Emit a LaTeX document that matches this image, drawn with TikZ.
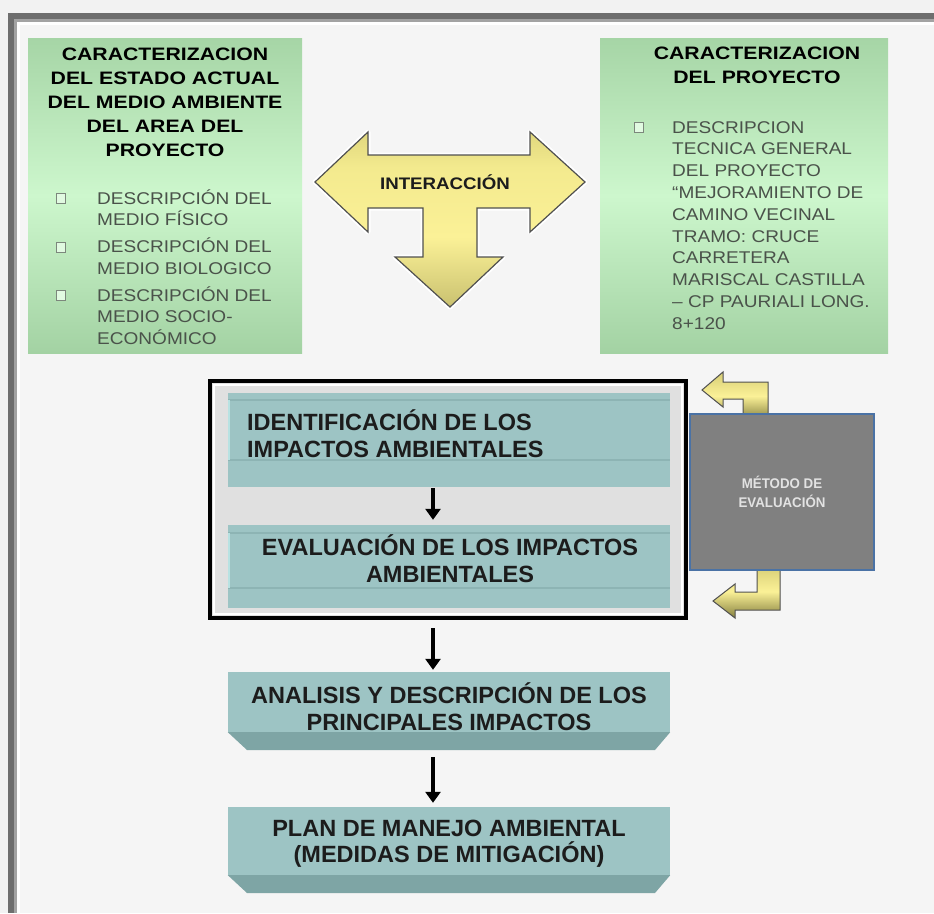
\documentclass[tikz,border=0pt]{standalone}
\usepackage{fontspec}
\setmainfont{Liberation Sans}
\newfontfamily\ttlfont[FakeStretch=1.18]{Liberation Sans}
\newfontfamily\itemfont[FakeStretch=1.12]{Liberation Sans}
\newfontfamily\narrowfont[FakeStretch=0.95]{Liberation Sans}
\usetikzlibrary{arrows.meta}
\definecolor{outerbg}{HTML}{F2F2F2}
\definecolor{framedark}{HTML}{6E6E6E}
\definecolor{framelight}{HTML}{A3A3A3}
\definecolor{innerbg}{HTML}{F5F5F5}
\definecolor{grnT}{HTML}{A6D5A6}
\definecolor{grnM}{HTML}{CDF7CD}
\definecolor{grnB}{HTML}{A3D2A3}
\definecolor{itemgray}{HTML}{4A524A}
\definecolor{bulletgray}{HTML}{7C877C}
\definecolor{tealF}{HTML}{9DC4C4}
\definecolor{tealL}{HTML}{8DB4B4}
\definecolor{tealE}{HTML}{B8E2E2}
\definecolor{tealB}{HTML}{7EA5A5}
\definecolor{tealtext}{HTML}{1C1C1C}
\definecolor{boxgray}{HTML}{E0E0E0}
\definecolor{metgray}{HTML}{808080}
\definecolor{metblue}{HTML}{4A72A5}
\definecolor{mettext}{HTML}{E2E2E2}
\definecolor{yD}{HTML}{85803F}
\definecolor{yM}{HTML}{BDB566}
\definecolor{yL}{HTML}{FBF197}
\definecolor{yL2}{HTML}{F3EA8E}
\definecolor{yM2}{HTML}{D6CD75}
\definecolor{yD2}{HTML}{A9A255}
\definecolor{tline}{HTML}{505050}
\pgfdeclareverticalshading{tsh}{100bp}{color(0bp)=(yD); color(20bp)=(yM); color(45bp)=(yL); color(65bp)=(yL2); color(80bp)=(yM2); color(100bp)=(yD2)}
\tikzset{
  ttl/.style={font=\ttlfont\bfseries\fontsize{18}{22}\selectfont, text=black, inner sep=0pt, anchor=base},
  itm/.style={font=\itemfont\fontsize{17}{21}\selectfont, text=itemgray, inner sep=0pt, anchor=base west},
  bulletbox/.style={draw=bulletgray, line width=0.9pt, fill=grnM!60!white, minimum width=9pt, minimum height=10pt, inner sep=0pt},
  greenbox/.style={inner sep=0pt, top color=grnT, bottom color=grnB, middle color=grnM},
  tealbox/.style={fill=tealF, inner sep=0pt},
  tealtxt/.style={font=\bfseries\fontsize{23.5}{26}\selectfont, text=tealtext, inner sep=0pt},
  bevel/.style={fill=tealB},
  flowarrow/.style={draw=black, line width=3.3pt, -{Triangle[width=15pt,length=11pt]}},
  yarrow/.style={shade, top color=yM2, bottom color=yD, middle color=yL, draw=tline, line width=1pt, line join=miter},
  halo/.style={draw=white, line width=5pt, line join=round}
}
\begin{document}
\begin{tikzpicture}[x=1pt,y=-1pt]
\useasboundingbox (0,0) rectangle (934,913);
% background frame
\fill[outerbg] (0,0) rectangle (934,913);
\fill[framedark] (8,13) rectangle (934,913);
\fill[framelight] (14,19) rectangle (934,913);
\fill[white] (17,22) rectangle (934,913);
\fill[innerbg] (20,25) rectangle (934,913);

% green boxes
\node[greenbox, minimum width=274pt, minimum height=315pt] (gl) at (165,195.5) {};
\node[greenbox, minimum width=288pt, minimum height=315pt] (gr) at (744,195.5) {};

% left title
\foreach \t [count=\i] in {CARACTERIZACION, DEL ESTADO ACTUAL, DEL MEDIO AMBIENTE, DEL AREA DEL, PROYECTO}
  \node[ttl] (lt\i) at (165,{36+24*\i}) {\t};
% left items
\foreach \t/\y [count=\i] in {DESCRIPCIÓN DEL/204, MEDIO FÍSICO/225.5, DESCRIPCIÓN DEL/252.5, MEDIO BIOLOGICO/274, DESCRIPCIÓN DEL/301, MEDIO SOCIO-/322.5, ECONÓMICO/344}
  \node[itm] (li\i) at (97,\y) {\t};
\node[bulletbox] (lb1) at (60.5,198) {};
\node[bulletbox] (lb2) at (60.5,247) {};
\node[bulletbox] (lb3) at (60.5,295) {};

% right title
\node[ttl] (rt1) at (757,59) {CARACTERIZACION};
\node[ttl] (rt2) at (757,83.5) {DEL PROYECTO};
\foreach \t [count=\i] in {DESCRIPCION, TECNICA GENERAL, DEL PROYECTO, “MEJORAMIENTO DE, CAMINO VECINAL, TRAMO: CRUCE, CARRETERA, MARISCAL CASTILLA, – CP PAURIALI LONG., 8+120}
  \node[itm] (ri\i) at (672,{111.2+21.8*\i}) {\t};
\node[bulletbox] (rb1) at (638.5,127) {};

% T arrow
\path[halo] (315,182) -- (368,132) -- (368,155) -- (530,155) -- (530,132) -- (585,182) -- (530,232) -- (530,208) -- (477,208) -- (477,257) -- (503,257) -- (450,307) -- (395,257) -- (423,257) -- (423,208) -- (368,208) -- (368,232) -- cycle;
\path[shade, shading=tsh, draw=tline, line width=1.2pt, line join=miter] (315,182) -- (368,132) -- (368,155) -- (530,155) -- (530,132) -- (585,182) -- (530,232) -- (530,208) -- (477,208) -- (477,257) -- (503,257) -- (450,307) -- (395,257) -- (423,257) -- (423,208) -- (368,208) -- (368,232) -- cycle;
\node[font=\itemfont\bfseries\fontsize{16.7}{18}\selectfont, text=tealtext, inner sep=0pt] (inter) at (445,182) {INTERACCIÓN};

% black framed box
\node[draw=black, line width=4pt, fill=boxgray, minimum width=476pt, minimum height=237pt, inner sep=0pt] (bb) at (448,499.5) {};
\draw[white, line width=2pt] (214,385) rectangle (682,614);

% teal boxes inside
\node[tealbox, minimum width=442pt, minimum height=94pt] (b1) at (449,440) {};
\draw[tealL, line width=1.5pt] (228,400) -- (670,400) (228,460) -- (670,460);
\draw[tealE, line width=2pt] (229,400) -- (229,460);
\node[tealtxt, anchor=base west] (b1a) at (247,430) {IDENTIFICACIÓN DE LOS};
\node[tealtxt, anchor=base west] (b1b) at (247,457) {IMPACTOS AMBIENTALES};

\node[tealbox, minimum width=442pt, minimum height=83pt] (b2) at (449,566.5) {};
\draw[tealL, line width=1.5pt] (228,533) -- (670,533) (228,588) -- (670,588);
\draw[tealE, line width=2pt] (229,533) -- (229,588);
\node[tealtxt, anchor=base] (b2a) at (450,555) {EVALUACIÓN DE LOS IMPACTOS};
\node[tealtxt, anchor=base] (b2b) at (450,582) {AMBIENTALES};

\draw[flowarrow, shorten <=1pt, shorten >=5pt] ([xshift=-16pt]b1.south) -- ([xshift=-16pt]b2.north);

% bent arrows around method box
\path[yarrow] (702,390) -- (723,372) -- (723,382) -- (768,382) -- (768,420) -- (743,420) -- (743,399) -- (723,399) -- (723,407) -- cycle;
\path[yarrow] (713,601) -- (735,584) -- (735,592) -- (757,592) -- (757,565) -- (780,565) -- (780,610) -- (735,610) -- (735,618) -- cycle;

% method box
\node[fill=metgray, draw=metblue, line width=2pt, minimum width=184pt, minimum height=156pt, inner sep=0pt, align=center, text=mettext, font=\narrowfont\bfseries\fontsize{14}{19}\selectfont] (met) at (782,492) {MÉTODO DE\\EVALUACIÓN};

% lower boxes
\node[tealbox, minimum width=442pt, minimum height=60pt] (b3) at (449,702) {};
\path[bevel] (b3.south west) -- (b3.south east) -- (655,750) -- (247,750) -- cycle;
\node[tealtxt, anchor=base] (b3a) at (449,703) {ANALISIS Y DESCRIPCIÓN DE LOS};
\node[tealtxt, anchor=base] (b3b) at (449,730) {PRINCIPALES IMPACTOS};

\node[tealbox, minimum width=442pt, minimum height=68pt] (b4) at (449,841) {};
\path[bevel] (b4.south west) -- (b4.south east) -- (655,893) -- (247,893) -- cycle;
\node[tealtxt, anchor=base] (b4a) at (449,836) {PLAN DE MANEJO AMBIENTAL};
\node[tealtxt, anchor=base] (b4b) at (449,862) {(MEDIDAS DE MITIGACIÓN)};

\draw[flowarrow, shorten <=8pt, shorten >=2pt] ([xshift=-15pt]bb.south) -- ([xshift=-16pt]b3.north);
\draw[flowarrow, shorten <=25pt, shorten >=4pt] ([xshift=-16pt]b3.south) -- ([xshift=-16pt]b4.north);
\end{tikzpicture}
\end{document}
